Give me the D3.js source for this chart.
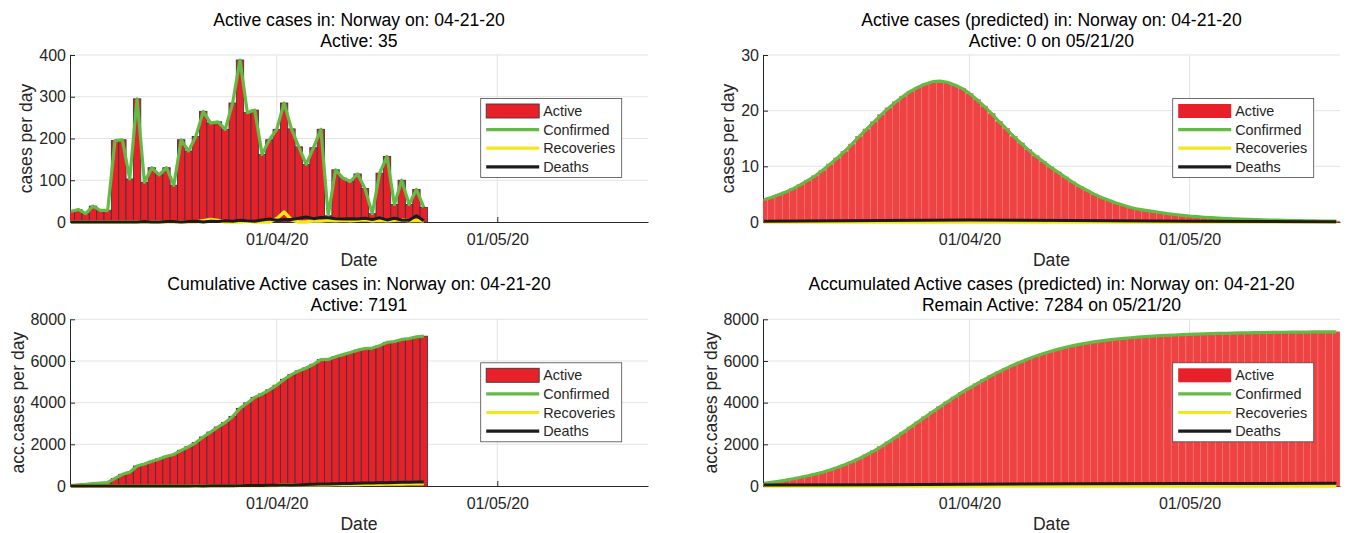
<!DOCTYPE html>
<html>
<head>
<meta charset="utf-8">
<script src="https://cdn.jsdelivr.net/npm/d3@7"></script>
<style>
  body { margin: 0; background: #fff; }
  svg text { font-family: "Liberation Sans", Arial, Helvetica, sans-serif; }
</style>
</head>
<body>
<script>
(function(){

    // ---- data ----
    var firstDay = "2020-03-04";          // first reported day
    var predFirstDay = "2020-03-04";      // prediction starts at the same day

    // daily active cases (Mar 4 .. Apr 21)
    var dailyActive = [25,30,20,38,28,28,195,197,103,295,
                       95,130,113,130,88,197,170,205,265,237,
                       240,222,285,388,262,268,162,197,222,285,
                       223,180,138,178,222,15,125,105,97,115,
                       80,20,117,157,42,100,42,78,35];
    var dailyDeaths = [0,0,0,0,0,0,0,0,0,0,
                       1,0,0,1,1,0,1,2,0,2,
                       1,3,2,4,3,2,5,7,4,6,
                       6,9,12,8,11,10,8,7,8,7,
                       9,6,10,5,9,5,4,15,3];
    var dailyRecovered = [0,0,0,0,0,0,0,0,0,0,
                          0,0,0,0,0,0,0,0,3,6,
                          4,0,0,0,2,0,0,0,8,24,
                          5,0,0,3,2,4,3,4,3,4,
                          5,3,4,3,4,5,3,4,2];

    // predicted daily active (Mar 4 .. May 21)
    var predDailyActive = [4.0,4.4,4.9,5.4,6.0,6.7,7.5,8.3,9.3,10.4,
                           11.5,12.7,14.0,15.4,16.7,18.0,19.3,20.5,21.6,22.6,
                           23.5,24.2,24.8,25.2,25.3,25.1,24.6,24.0,23.1,22.0,
                           20.8,19.5,18.1,16.8,15.4,14.2,13.0,11.9,10.9,9.9,
                           9.0,8.1,7.2,6.4,5.7,5.0,4.4,3.9,3.4,3.0,
                           2.6,2.3,2.1,1.9,1.7,1.5,1.35,1.2,1.05,0.95,
                           0.85,0.77,0.7,0.63,0.57,0.52,0.47,0.43,0.39,0.35,
                           0.32,0.29,0.26,0.24,0.22,0.2,0.18,0.17,0.16];
    // predicted accumulated active (Mar 4 .. May 21)
    var predCumActive = [130,175,225,280,345,420,490,570,660,770,
                         890,1020,1160,1320,1500,1690,1895,2115,2345,2585,
                         2830,3075,3320,3565,3805,4040,4270,4490,4700,4905,
                         5105,5295,5475,5645,5805,5955,6095,6225,6345,6455,
                         6555,6645,6725,6795,6860,6915,6965,7010,7050,7085,
                         7115,7145,7170,7192,7212,7230,7246,7261,7275,7288,
                         7300,7310,7320,7329,7337,7345,7352,7358,7364,7369,
                         7374,7378,7382,7386,7389,7392,7395,7397,7400];

    // predicted deaths / recoveries, a few points only
    var predLineDates = ["2020-03-04","2020-03-20","2020-04-01","2020-04-15","2020-05-01","2020-05-21"];
    var predDailyDeaths = [0.12,0.28,0.34,0.25,0.12,0.04];
    var predCumDeaths = [45,65,85,105,118,126];
    var predRecovered = [0,0,0,0,0,0];

    var xTickDates = ["2020-04-01","2020-05-01"];
    var xTickLabels = ["01/04/20","01/05/20"];
    var yTicksDaily = [0,100,200,300,400];
    var yTicksPred = [0,10,20,30];
    var yTicksCum = [0,2000,4000,6000,8000];
    var legendLabels = ["Active","Confirmed","Recoveries","Deaths"];

    var colRed = "#e8202a", colGreen = "#63bb45", colYellow = "#f5e61a", colBlack = "#1c1c1c";

    // ---- build series ----
    var parseDay = d3.utcParse("%Y-%m-%d");
    function dayList(start, n){
        var s = parseDay(start);
        return d3.range(n).map(function(i){ return d3.utcDay.offset(s, i); });
    }
    function zip(dates, vals){
        return vals.map(function(v, i){ return {date: dates[i], value: v}; });
    }

    var actDates = dayList(firstDay, dailyActive.length);
    var predDates = dayList(predFirstDay, predDailyActive.length);
    var sparseDates = predLineDates.map(parseDay);

    var cumActive = Array.from(d3.cumsum(dailyActive));
    var cumDeaths = Array.from(d3.cumsum(dailyDeaths));
    var cumRecovered = Array.from(d3.cumsum(dailyRecovered));

    var xStart = new Date(Date.UTC(2020,2,3,21)),
        xEnd = new Date(Date.UTC(2020,4,21,12));

    var panels = [
        {left:70, right:648, top:55, bottom:222, yMax:400, yTicks:yTicksDaily,
         titles:["Active cases in: Norway on: 04-21-20", "Active: 35"],
         ylabel:"cases per day", pred:false,
         bars:zip(actDates, dailyActive), confirmed:zip(actDates, dailyActive),
         recovered:zip(actDates, dailyRecovered), deaths:zip(actDates, dailyDeaths)},
        {left:763, right:1340, top:55, bottom:222, yMax:30, yTicks:yTicksPred,
         titles:["Active cases (predicted) in: Norway on: 04-21-20", "Active: 0 on 05/21/20"],
         ylabel:"cases per day", pred:true,
         bars:zip(predDates, predDailyActive), confirmed:zip(predDates, predDailyActive),
         recovered:zip(sparseDates, predRecovered), deaths:zip(sparseDates, predDailyDeaths)},
        {left:70, right:648, top:319.3, bottom:486, yMax:8000, yTicks:yTicksCum,
         titles:["Cumulative Active cases in: Norway on: 04-21-20", "Active: 7191"],
         ylabel:"acc.cases per day", pred:false,
         bars:zip(actDates, cumActive), confirmed:zip(actDates, cumActive),
         recovered:zip(actDates, cumRecovered), deaths:zip(actDates, cumDeaths)},
        {left:763, right:1340, top:319.3, bottom:486, yMax:8000, yTicks:yTicksCum,
         titles:["Accumulated Active cases (predicted) in: Norway on: 04-21-20", "Remain Active: 7284 on 05/21/20"],
         ylabel:"acc.cases per day", pred:true,
         bars:zip(predDates, predCumActive), confirmed:zip(predDates, predCumActive),
         recovered:zip(sparseDates, predRecovered), deaths:zip(sparseDates, predCumDeaths)}
    ];

    var svg = d3.select("body").append("svg")
        .attr("width", 1348)
        .attr("height", 533);

    panels.forEach(drawPanel);

    function drawPanel(p, idx){
        var x = d3.scaleUtc().domain([xStart, xEnd]).range([p.left, p.right]);
        var y = d3.scaleLinear().domain([0, p.yMax]).range([p.bottom, p.top]);
        var g = svg.append("g");
        var clipId = "clip" + idx;

        g.append("clipPath").attr("id", clipId)
            .append("rect")
            .attr("x", p.left).attr("y", p.top - 10)
            .attr("width", p.right - p.left)
            .attr("height", p.bottom - p.top + 16);

        // grid
        g.selectAll(".hgrid").data(p.yTicks.slice(1)).enter()
            .append("line")
            .attr("x1", p.left).attr("x2", p.right)
            .attr("y1", function(d){ return y(d); })
            .attr("y2", function(d){ return y(d); })
            .attr("stroke", "#e3e3e3").attr("stroke-width", 1);
        g.selectAll(".vgrid").data(xTickDates.map(parseDay)).enter()
            .append("line")
            .attr("x1", function(d){ return x(d); })
            .attr("x2", function(d){ return x(d); })
            .attr("y1", p.top).attr("y2", p.bottom)
            .attr("stroke", "#e3e3e3").attr("stroke-width", 1);

        // axes
        var yAxis = g.append("g")
            .attr("transform", "translate(" + p.left + ",0)")
            .call(d3.axisLeft(y).tickValues(p.yTicks).tickFormat(d3.format("d"))
                .tickSizeInner(-5).tickSizeOuter(0).tickPadding(4));
        var xAxis = g.append("g")
            .attr("transform", "translate(0," + p.bottom + ")")
            .call(d3.axisBottom(x).tickValues(xTickDates.map(parseDay))
                .tickFormat(function(d, i){ return xTickLabels[i]; })
                .tickSizeInner(-5).tickSizeOuter(0).tickPadding(12));
        [yAxis, xAxis].forEach(function(a){
            a.attr("font-family", null).attr("font-size", 16).attr("color", "#262626");
            a.selectAll("text").attr("fill", "#262626");
        });

        // bars
        var barG = g.append("g").attr("clip-path", "url(#" + clipId + ")");
        barG.selectAll("rect").data(p.bars).enter()
            .append("rect")
            .attr("x", function(d){
                var w = x(d3.utcDay.offset(d.date, 1)) - x(d.date);
                return x(d.date) - w / 2;
            })
            .attr("width", function(d){ return x(d3.utcDay.offset(d.date, 1)) - x(d.date); })
            .attr("y", function(d){ return y(d.value); })
            .attr("height", function(d){ return p.bottom - y(d.value); })
            .attr("fill", p.pred ? "#ef4242" : colRed)
            .attr("stroke", p.pred ? "#f47878" : "#3a3a3a")
            .attr("stroke-width", p.pred ? 0.6 : 0.9);

        // lines
        var line = d3.line()
            .x(function(d){ return x(d.date); })
            .y(function(d){ return y(d.value); });
        var lineG = g.append("g").attr("clip-path", "url(#" + clipId + ")");
        [[p.confirmed, colGreen, 3.2], [p.recovered, colYellow, 3.4], [p.deaths, colBlack, 3]].forEach(function(s){
            lineG.append("path")
                .datum(s[0])
                .attr("d", line)
                .attr("fill", "none")
                .attr("stroke", s[1])
                .attr("stroke-width", s[2])
                .attr("stroke-linejoin", "round");
        });

        // titles
        g.selectAll(".title").data(p.titles).enter()
            .append("text")
            .attr("x", (p.left + p.right) / 2)
            .attr("y", function(d, i){ return p.top - 29 + i * 21; })
            .attr("text-anchor", "middle")
            .attr("font-size", 17.6)
            .attr("fill", "#000")
            .text(function(d){ return d; });

        // axis labels
        g.append("text")
            .attr("x", (p.left + p.right) / 2)
            .attr("y", p.bottom + 44)
            .attr("text-anchor", "middle")
            .attr("font-size", 17.6)
            .attr("fill", "#262626")
            .text("Date");

        var maxW = d3.max(yAxis.selectAll("text").nodes(), function(n){ return n.getComputedTextLength(); });
        var lx = p.left - 4 - maxW - 12.5, ly = (p.top + p.bottom) / 2;
        g.append("text")
            .attr("transform", "translate(" + lx + "," + ly + ") rotate(-90)")
            .attr("text-anchor", "middle")
            .attr("dy", "0.32em")
            .attr("font-size", 17.6)
            .attr("fill", "#262626")
            .text(p.ylabel);

        // legend
        var bx = p.right - 167.3, by = p.top + 43.5;
        var leg = g.append("g");
        leg.append("rect")
            .attr("x", bx).attr("y", by)
            .attr("width", 141).attr("height", 79)
            .attr("fill", "#fff")
            .attr("stroke", "#4a4a4a").attr("stroke-width", 0.8);
        var sw = [colRed, colGreen, colYellow, colBlack];
        legendLabels.forEach(function(lbl, i){
            var ry = by + 12.5 + i * 18.6;
            if (i === 0) {
                leg.append("rect")
                    .attr("x", bx + 5.5).attr("y", ry - 7)
                    .attr("width", 53).attr("height", 14)
                    .attr("fill", colRed)
                    .attr("stroke", p.pred ? "none" : "#3a3a3a")
                    .attr("stroke-width", 0.9);
            } else {
                leg.append("line")
                    .attr("x1", bx + 5.5).attr("x2", bx + 58.5)
                    .attr("y1", ry).attr("y2", ry)
                    .attr("stroke", sw[i]).attr("stroke-width", 3.2);
            }
            leg.append("text")
                .attr("x", bx + 62.5).attr("y", ry + 5)
                .attr("font-size", 14.4)
                .attr("fill", "#262626")
                .text(lbl);
        });
    }

})();
</script>
</body>
</html>
